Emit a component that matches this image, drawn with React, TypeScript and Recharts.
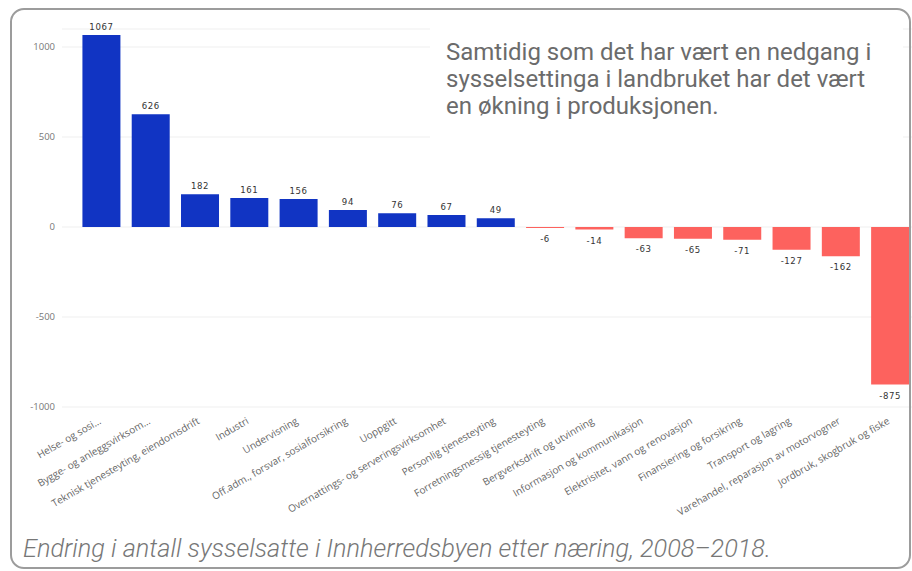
import React from "react";
import { BarChart, Bar, XAxis, YAxis, CartesianGrid, Cell, LabelList } from "recharts";

const categories: string[] = [
  "Helse- og sosi…",
  "Bygge- og anleggsvirksom…",
  "Teknisk tjenesteyting, eiendomsdrift",
  "Industri",
  "Undervisning",
  "Off.adm., forsvar, sosialforsikring",
  "Uoppgitt",
  "Overnattings- og serveringsvirksomhet",
  "Personlig tjenesteyting",
  "Forretningsmessig tjenesteyting",
  "Bergverksdrift og utvinning",
  "Informasjon og kommunikasjon",
  "Elektrisitet, vann og renovasjon",
  "Finansiering og forsikring",
  "Transport og lagring",
  "Varehandel, reparasjon av motorvogner",
  "Jordbruk, skogbruk og fiske",
];

const values: number[] = [1067, 626, 182, 161, 156, 94, 76, 67, 49, -6, -14, -63, -65, -71, -127, -162, -875];

const yTicks: number[] = [-1000, -500, 0, 500, 1000];

const annotationLines: string[] = [
  "Samtidig som det har vært en nedgang i",
  "sysselsettinga i landbruket har det vært",
  "en økning i produksjonen.",
];

const caption = "Endring i antall sysselsatte i Innherredsbyen etter næring, 2008–2018.";

const data = categories.map((c, i) => ({ name: c, value: values[i] }));

const BLUE = "#1134C3";
const RED = "#FD625E";

const XTick = (props: any) => {
  const { x, y, payload } = props;
  return (
    <g transform={`translate(${x},${y + 16})`}>
      <text
        x={0}
        y={0}
        textAnchor="end"
        transform="rotate(-30)"
        fontFamily="'Open Sans', sans-serif"
        fontSize={10}
        fill="#666"
      >
        {payload.value}
      </text>
    </g>
  );
};

const BarLabel = (props: any) => {
  const { x, y, width, height, value } = props;
  const top = Math.min(Number(y), Number(y) + Number(height));
  const bottom = Math.max(Number(y), Number(y) + Number(height));
  const cx = Number(x) + Number(width) / 2;
  const ty = value >= 0 ? top - 5 : bottom + 14;
  return (
    <text
      x={cx}
      y={ty}
      textAnchor="middle"
      fontFamily="'DejaVu Sans Condensed', 'Liberation Sans Narrow', Roboto, sans-serif"
      fontSize={9.5}
      fill="#333"
      letterSpacing={0.6}
    >
      {value}
    </text>
  );
};

export default function App() {
  return (
    <div
      style={{
        position: "fixed",
        left: 0,
        top: 0,
        width: 912,
        height: 571,
        overflow: "hidden",
        background: "#fff",
      }}
    >
      <div style={{ position: "absolute", left: 8, top: 8 }}>
        <BarChart
          width={907}
          height={540}
          data={data}
          margin={{ top: 21, right: 0, bottom: 1, left: 0 }}
          barCategoryGap="11%"
        >
          <CartesianGrid vertical={false} stroke="#efefef" />
          <XAxis
            dataKey="name"
            interval={0}
            height={140}
            tickLine={false}
            axisLine={false}
            tickSize={0}
            tickMargin={0}
            padding={{ left: 15, right: 0 }}
            tick={<XTick />}
          />
          <YAxis
            width={54}
            domain={[-1000, 1100]}
            ticks={yTicks}
            allowDataOverflow
            tickLine={false}
            axisLine={false}
            tickSize={0}
            tickMargin={7}
            tick={{ fontFamily: "'Open Sans', sans-serif", fontSize: 9.5, fill: "#777" }}
          />
          <Bar dataKey="value" isAnimationActive={false}>
            {data.map((d, i) => (
              <Cell key={i} fill={d.value >= 0 ? BLUE : RED} />
            ))}
            <LabelList dataKey="value" content={<BarLabel />} />
          </Bar>
        </BarChart>
      </div>
      <div
        style={{
          position: "absolute",
          left: 430,
          top: 15,
          width: 473,
          height: 130,
          background: "#fff",
        }}
      />
      <div
        style={{
          position: "absolute",
          left: 446,
          top: 39,
          fontFamily: "Roboto, sans-serif",
          fontSize: 24,
          lineHeight: "27px",
          color: "#6b6b6b",
          whiteSpace: "nowrap",
        }}
      >
        {annotationLines.map((l, i) => (
          <div key={i}>{l}</div>
        ))}
      </div>
      <div
        style={{
          position: "absolute",
          left: 23,
          top: 536,
          fontFamily: "Roboto, sans-serif",
          fontStyle: "italic",
          fontWeight: 300,
          fontSize: 25.3,
          lineHeight: "25px",
          color: "#777",
          whiteSpace: "nowrap",
        }}
      >
        {caption}
      </div>
      <div
        style={{
          position: "absolute",
          left: 10,
          top: 8,
          width: 897,
          height: 557,
          border: "2px solid #9c9c9c",
          borderRadius: 14,
          pointerEvents: "none",
        }}
      />
    </div>
  );
}
